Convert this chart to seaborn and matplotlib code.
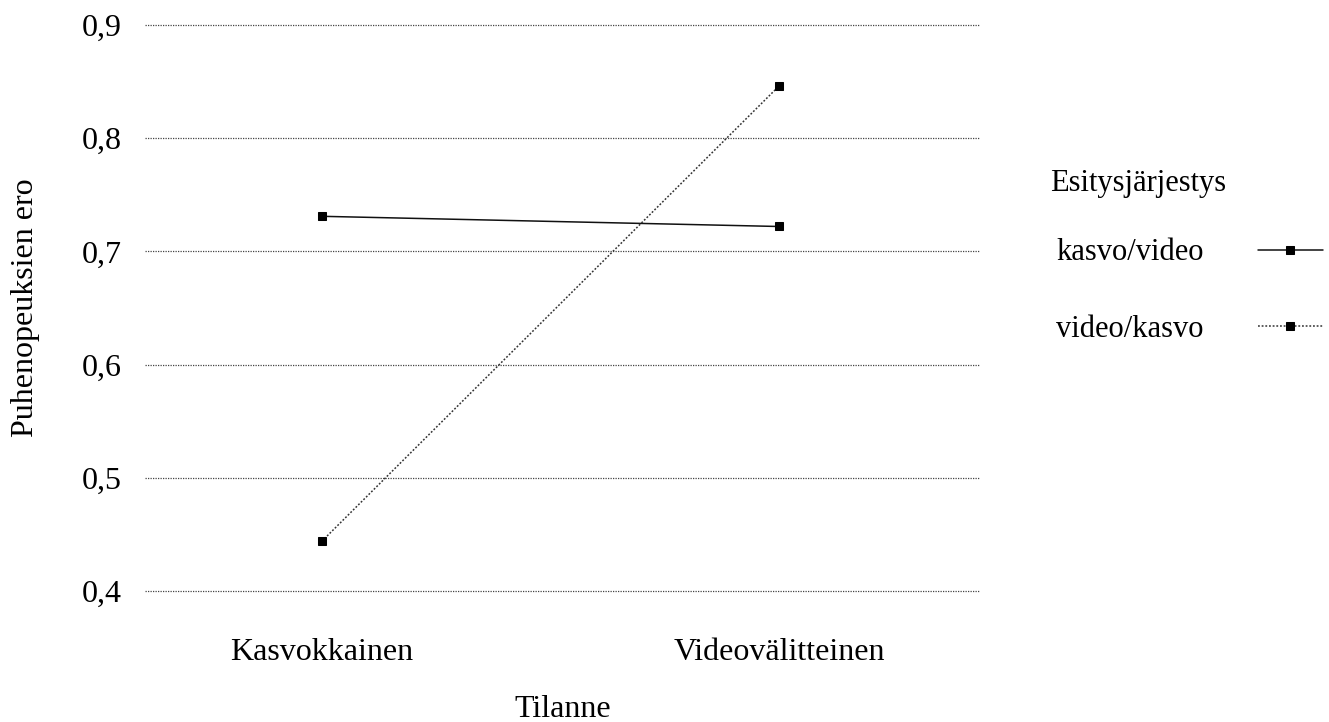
import pandas as pd
import numpy as np
import matplotlib.pyplot as plt
import seaborn as sns

# data
situations = ['Kasvokkainen', 'Videovälitteinen']
kasvo_video = [0.731, 0.722]
video_kasvo = [0.444, 0.846]
orders = ['kasvo/video', 'video/kasvo']
yticks = [0.4, 0.5, 0.6, 0.7, 0.8, 0.9]

df = pd.DataFrame({
    'Tilanne': situations * 2,
    'ero': kasvo_video + video_kasvo,
    'Esitysjärjestys': [orders[0]] * 2 + [orders[1]] * 2,
})

sns.set_theme(style='white')
plt.rcParams['font.family'] = ['Liberation Serif', 'DejaVu Serif']
plt.rcParams['text.color'] = 'black'
plt.rcParams['axes.labelcolor'] = 'black'
plt.rcParams['xtick.color'] = 'black'
plt.rcParams['ytick.color'] = 'black'

fig = plt.figure(figsize=(13.29, 7.22), dpi=100)
ax = fig.add_axes([145 / 1329, 1 - 591 / 722, 835 / 1329, 566 / 722])

sns.lineplot(data=df, x='Tilanne', y='ero', hue='Esitysjärjestys', style='Esitysjärjestys',
             palette=['#111111', '#333333'], markers={orders[0]: 's', orders[1]: 's'},
             dashes={orders[0]: '', orders[1]: (1.2, 1.2)}, markersize=5.5,
             markeredgecolor='black', linewidth=1.1, ax=ax, legend=True)
for l in ax.lines:
    l.set_markerfacecolor('black')

ax.set_xlim(-0.387, 1.44)
ax.set_ylim(0.4, 0.9)
ax.set_yticks(yticks)
ax.set_yticklabels([f'{v:.1f}'.replace('.', ',') for v in yticks])
ax.yaxis.grid(True, linestyle=(0, (1, 1)), color='#444444', linewidth=0.9)
for g in ax.get_ygridlines():
    g.set_clip_on(False)
ax.xaxis.grid(False)
ax.set_axisbelow(True)
for s in ax.spines.values():
    s.set_visible(False)
ax.tick_params(axis='y', length=0, pad=17, labelsize=23)
ax.tick_params(axis='x', length=0, pad=34, labelsize=23)
ax.set_ylabel('Puhenopeuksien ero', fontsize=23, labelpad=30)
ax.set_xlabel('Tilanne', fontsize=23, labelpad=20)

handles, labels = ax.get_legend_handles_labels()
ax.get_legend().remove()
fig.text(1050 / 1329, 1 - 184 / 722, 'Esitysjärjestys', fontsize=22, ha='left', va='center')
leg = fig.legend(handles, labels, loc='upper left',
                 bbox_to_anchor=(1029 / 1329, 1 - 211 / 722), frameon=False,
                 markerfirst=False, fontsize=22, labelspacing=1.55,
                 handlelength=2.1, handletextpad=1.78)

plt.savefig('out.png', dpi=100)
